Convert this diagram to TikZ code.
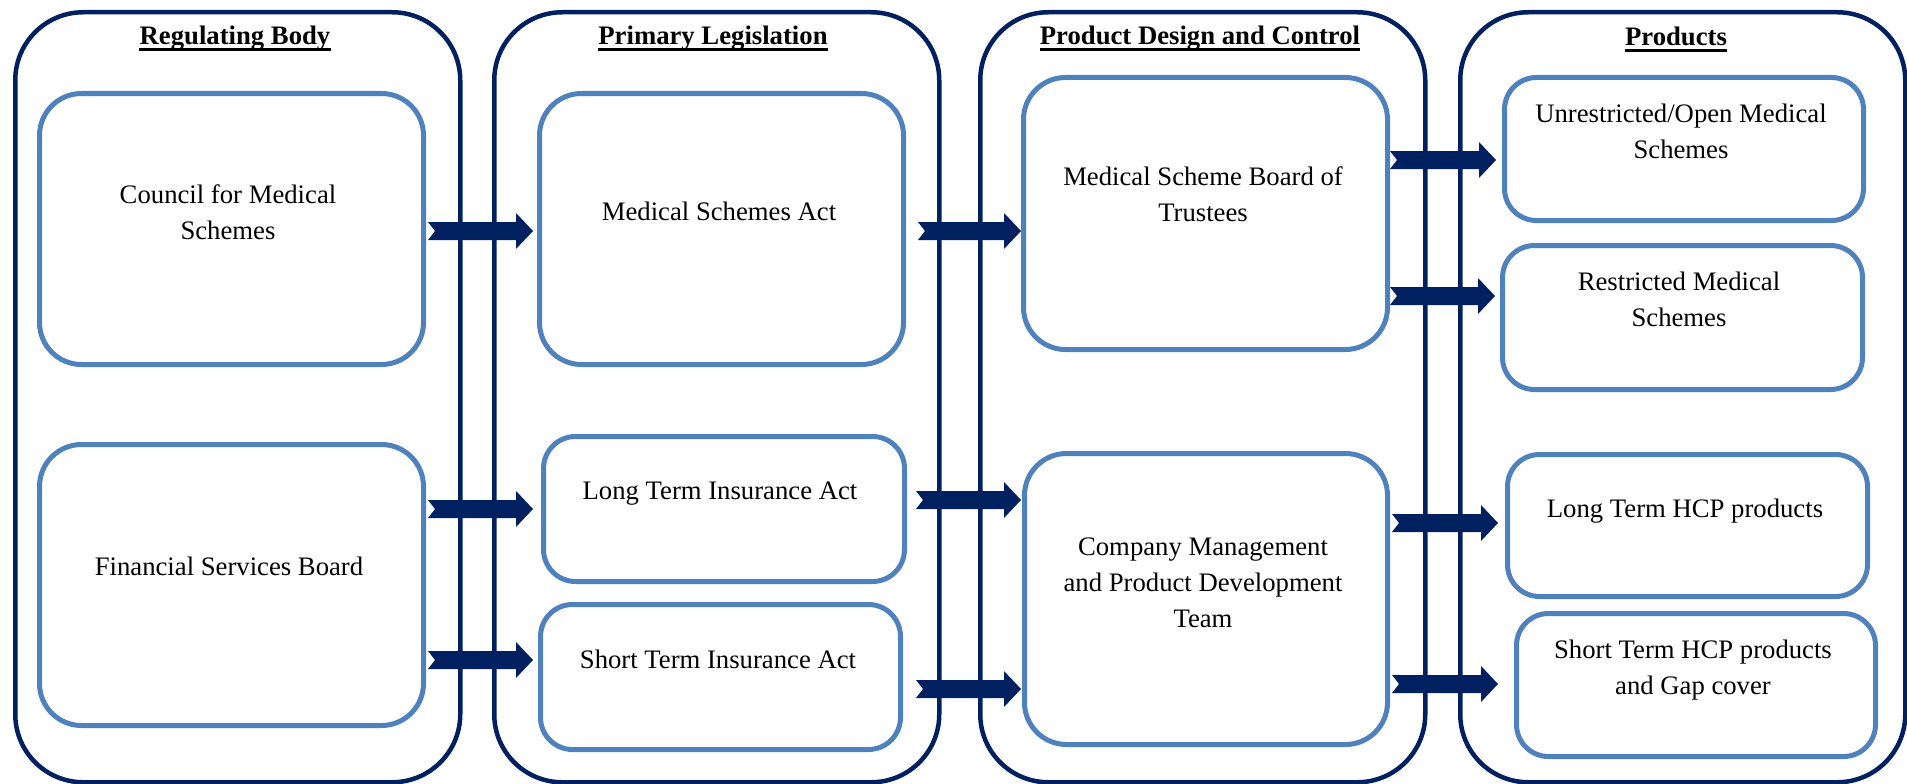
\documentclass[tikz,border=0pt]{standalone}
\usepackage{fontspec}
\setmainfont{Liberation Serif}
\usetikzlibrary{calc}
\definecolor{navy}{HTML}{002060}
\definecolor{lblue}{HTML}{4F81BD}
\tikzset{
  outerbox/.style={draw=navy, line width=4.5pt, rounded corners=68pt, minimum width=445pt, minimum height=770pt, inner sep=0pt, anchor=north west},
  innerbox/.style={draw=lblue, line width=5pt, inner sep=0pt, anchor=north west},
  txt/.style={font=\fontsize{26.7}{36}\selectfont, align=center, inner sep=0pt, anchor=base},
  hdr/.style={font=\fontsize{26.7}{36}\selectfont\bfseries, inner sep=0pt, anchor=base},
  uline/.style={draw=black, line width=2.6pt},
  arrowfill/.style={fill=navy},
}
\newcommand{\blockarrow}[2]{\fill[arrowfill] let \p1=(#1), \p2=(#2) in
  (\x1,\y1+9pt) -- (\x2-17pt,\y1+9pt) -- (\x2-17pt,\y1+18pt) -- (\x2,\y1)
  -- (\x2-17pt,\y1-18pt) -- (\x2-17pt,\y1-9pt) -- (\x1,\y1-9pt) -- (\x1+7pt,\y1) -- cycle;}
\begin{document}
\begin{tikzpicture}[x=1pt,y=-1pt]
\useasboundingbox (0,0) rectangle (1907,784);
% outer columns
\node[outerbox] (c1) at (13,10) {};
\node[outerbox] (c2) at (492,10) {};
\node[outerbox] (c3) at (978,10) {};
\node[outerbox] (c4) at (1458,10) {};
% headers
\node[hdr] (h1) at (235,45) {Regulating Body};
\node[hdr] (h2) at (713,45) {Primary Legislation};
\node[hdr] (h3) at (1200,45) {Product Design and Control};
\node[hdr] (h4) at (1676,46) {Products};
\foreach \h in {h1,h2,h3,h4}{
  \draw[uline] ([yshift=-4.5pt]\h.base west) -- ([yshift=-4.5pt]\h.base east);
}
% inner boxes
\node[innerbox, minimum width=384pt, minimum height=271pt, rounded corners=42pt] (cms) at (37,91) {};
\node[innerbox, minimum width=384pt, minimum height=281pt, rounded corners=42pt] (fsb) at (37,442) {};
\node[innerbox, minimum width=364pt, minimum height=271pt, rounded corners=42pt] (msa) at (537,91) {};
\node[innerbox, minimum width=361pt, minimum height=145pt, rounded corners=32pt] (ltia) at (541,434) {};
\node[innerbox, minimum width=360pt, minimum height=145pt, rounded corners=32pt] (stia) at (538,602) {};
\node[innerbox, minimum width=364pt, minimum height=272pt, rounded corners=42pt] (bot) at (1021,75) {};
\node[innerbox, minimum width=363pt, minimum height=291pt, rounded corners=42pt] (cmp) at (1022,451) {};
\node[innerbox, minimum width=359pt, minimum height=143pt, rounded corners=32pt] (ums) at (1502,75) {};
\node[innerbox, minimum width=360pt, minimum height=144pt, rounded corners=32pt] (rms) at (1500,243) {};
\node[innerbox, minimum width=360pt, minimum height=142pt, rounded corners=32pt] (lthcp) at (1505,452) {};
\node[innerbox, minimum width=359pt, minimum height=143pt, rounded corners=32pt] (sthcp) at (1514,611) {};
% texts (base anchor = baseline of the last line)
\node[txt] (tcms) at (228,239) {Council for Medical\\Schemes};
\node[txt] (tfsb) at (229,575) {Financial Services Board};
\node[txt] (tmsa) at (719,220) {Medical Schemes Act};
\node[txt] (tltia) at (720,499) {Long Term Insurance Act};
\node[txt] (tstia) at (718,668) {Short Term Insurance Act};
\node[txt] (tbot) at (1203,221) {Medical Scheme Board of\\Trustees};
\node[txt] (tcmp) at (1203,627) {Company Management\\and Product Development\\Team};
\node[txt] (tums) at (1681,158) {Unrestricted/Open Medical\\Schemes};
\node[txt] (trms) at (1679,326) {Restricted Medical\\Schemes};
\node[txt] (tlthcp) at (1685,517) {Long Term HCP products};
\node[txt] (tsthcp) at (1693,694) {Short Term HCP products\\and Gap cover};
% arrow end points
\coordinate (a1s) at (428,231);  \coordinate (a1e) at (533,231);
\coordinate (a2s) at (428,509);  \coordinate (a2e) at (533,509);
\coordinate (a3s) at (428,660);  \coordinate (a3e) at (533,660);
\coordinate (a4s) at (918,231);  \coordinate (a4e) at (1021,231);
\coordinate (a5s) at (916,500);  \coordinate (a5e) at (1021,500);
\coordinate (a6s) at (916,689);  \coordinate (a6e) at (1021,689);
\coordinate (a7s) at (1390,160); \coordinate (a7e) at (1496,160);
\coordinate (a8s) at (1390,296); \coordinate (a8e) at (1495,296);
\coordinate (a9s) at (1392,523); \coordinate (a9e) at (1498,523);
\coordinate (a10s) at (1392,684); \coordinate (a10e) at (1498,684);
\foreach \i in {1,...,10}{\blockarrow{a\i s}{a\i e}}
\end{tikzpicture}
\end{document}
